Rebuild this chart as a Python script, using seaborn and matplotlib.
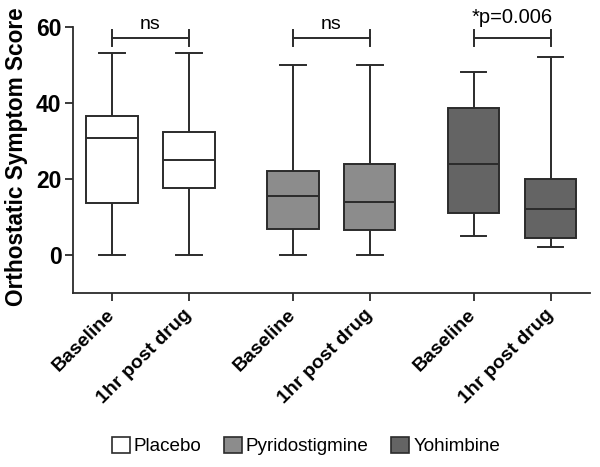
import numpy as np
import pandas as pd
import matplotlib
matplotlib.use("Agg")
import matplotlib.pyplot as plt
import matplotlib.transforms as mtransforms
from matplotlib.patches import Patch
import seaborn as sns

# summary values: lower whisker, q1, median, q3, upper whisker
drugs = ["Placebo", "Pyridostigmine", "Yohimbine"]
timepoints = ["Baseline", "1hr post drug"]
placebo_base = [0, 13.6, 30.6, 36.5, 53]
placebo_post = [0, 17.5, 25.0, 32.2, 53]
pyrido_base = [0, 6.9, 15.4, 22.1, 50]
pyrido_post = [0, 6.4, 14.0, 24.0, 50]
yohim_base = [5, 11.1, 24.0, 38.5, 48]
yohim_post = [2, 4.5, 12.0, 19.9, 52]
sig_labels = ["ns", "ns", "*p=0.006"]
sig_heights = [57, 57, 57]

drug_colors = {"Placebo": "#ffffff", "Pyridostigmine": "#8c8c8c", "Yohimbine": "#646464"}

plt.rcParams['font.family'] = ['Liberation Sans', 'DejaVu Sans']

groups = [[placebo_base, placebo_post], [pyrido_base, pyrido_post], [yohim_base, yohim_post]]
gap = 2.35
rows = []
tick_pos = []
tick_lab = []
for g, (drug, pair) in enumerate(zip(drugs, groups)):
  for j, (tp, vals) in enumerate(zip(timepoints, pair)):
    pos = g * gap + j
    tick_pos.append(pos)
    tick_lab.append(tp)
    # five points so that quartiles/whiskers (whis=(0,100)) reproduce the read stats
    for v in vals:
      rows.append({"pos": pos, "drug": drug, "score": v})
df = pd.DataFrame(rows)

fig = plt.figure(figsize=(6, 4.67), dpi=100)
ax = fig.add_axes([0.121, 0.373, 0.862, 0.570])

sns.boxplot(data=df, x="pos", y="score", hue="drug", palette=drug_colors,
            native_scale=True, dodge=False, width=0.67, whis=(0, 100),
            linecolor="#2b2b2b", linewidth=1.4, saturation=1, legend=False, ax=ax)

ax.set_ylim(-10, 60)
ax.set_xlim(tick_pos[0] - 0.51, tick_pos[-1] + 0.51)
ax.set_yticks([0, 20, 40, 60])
ax.set_xticks(tick_pos)
ax.set_xticklabels(tick_lab, rotation=45, ha="right", va="center",
                   rotation_mode="anchor", fontsize=14, fontweight="bold")
shift = mtransforms.ScaledTranslation(-3 / 100, -3 / 100, fig.dpi_scale_trans)
for lab in ax.get_xticklabels():
  lab.set_transform(lab.get_transform() + shift)
for lab in ax.get_yticklabels():
  lab.set_fontsize(16.5)
  lab.set_fontweight("bold")
ax.tick_params(axis="both", length=6, width=1.3, color="#2b2b2b")
ax.tick_params(axis="x", pad=8)
ax.tick_params(axis="y", pad=2)
ax.set_xlabel("")
ax.set_ylabel("Orthostatic Symptom Score", fontsize=16.3, fontweight="bold", labelpad=5)
ax.yaxis.set_label_coords(-0.087, 0.51)
for s in ["top", "right"]:
  ax.spines[s].set_visible(False)
for s in ["left", "bottom"]:
  ax.spines[s].set_linewidth(1.3)
  ax.spines[s].set_color("#2b2b2b")

# significance brackets
for g, (lab, h) in enumerate(zip(sig_labels, sig_heights)):
  x0 = tick_pos[2 * g]
  x1 = tick_pos[2 * g + 1]
  ax.plot([x0, x1], [h, h], color="#2b2b2b", lw=1.4, clip_on=False)
  for xx in (x0, x1):
    ax.plot([xx, xx], [h - 2, h + 2], color="#2b2b2b", lw=1.4, clip_on=False)
  if g == 2:
    ax.text((x0 + x1) / 2, h + 4, lab, ha="center", va="baseline",
            fontsize=14.5, clip_on=False)
  else:
    ax.text((x0 + x1) / 2, h + 2.3, lab, ha="center", va="baseline",
            fontsize=14, clip_on=False)

handles = [Patch(facecolor=drug_colors[d], edgecolor="#2b2b2b", linewidth=1.2) for d in drugs]
fig.legend(handles, drugs, loc="center", bbox_to_anchor=(306 / 600, 1 - 446 / 467),
           ncol=3, frameon=False, fontsize=13.6, handlelength=0.95, handleheight=0.95,
           handletextpad=0.2, columnspacing=1.2)

fig.savefig("out.png", dpi=100)
